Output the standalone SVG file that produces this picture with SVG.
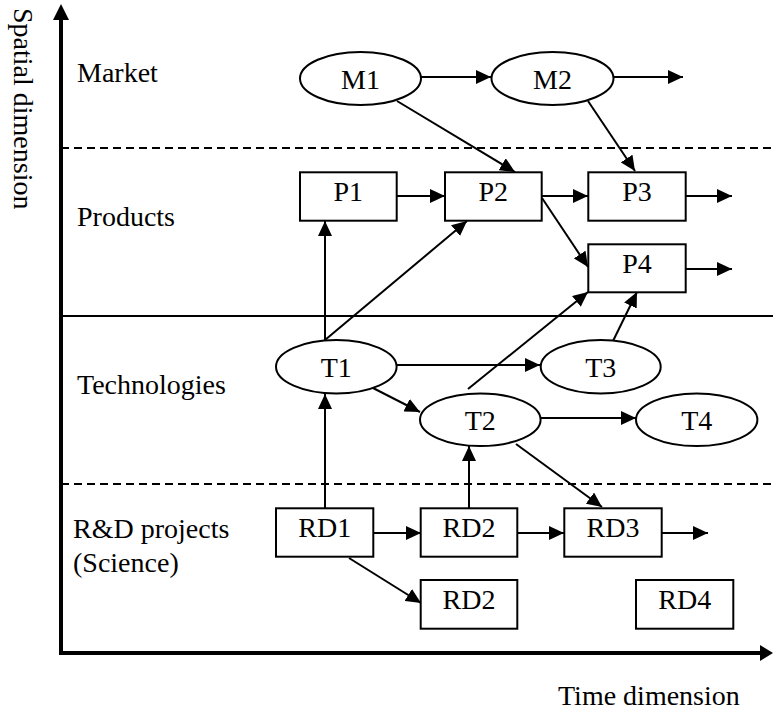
<svg xmlns="http://www.w3.org/2000/svg" width="773" height="710" viewBox="0 0 773 710" font-family="'Liberation Serif', 'Times New Roman', Times, 'Noto Serif', 'DejaVu Serif', serif">
  <style>
    text { font-size: 28px; fill: #000; }
    .lbl { text-anchor: start; }
    .nt { text-anchor: middle; }
    .node { fill: #fff; stroke: #000; stroke-width: 2; }
    .edge { fill: none; stroke: #000; stroke-width: 2; marker-end: url(#arr); }
    .axis { fill: none; stroke: #000; stroke-width: 4; }
    .dash { fill: none; stroke: #000; stroke-width: 2; stroke-dasharray: 8 5; }
    .sep { fill: none; stroke: #000; stroke-width: 2; }
  </style>
  <defs>
    <marker id="arr" viewBox="0 0 15 14" refX="15" refY="7" markerWidth="15" markerHeight="14" markerUnits="userSpaceOnUse" orient="auto">
      <path d="M0,0 L15,7 L0,14 z" fill="#000"/>
    </marker>
  </defs>

  <rect width="773" height="710" fill="#fff"/>

  <!-- axes -->
  <g id="axes">
    <line class="axis" x1="61" y1="654" x2="61" y2="18"/>
    <polygon points="61,4 53,20 69,20" fill="#000"/>
    <line class="axis" x1="59" y1="653" x2="762" y2="653"/>
    <polygon points="773,653 760,645 760,661" fill="#000"/>
    <text transform="translate(14,8) rotate(90)" class="lbl">Spatial dimension</text>
    <text x="558" y="705" class="lbl">Time dimension</text>
  </g>

  <!-- layer boundaries -->
  <g id="layers">
    <line class="dash" x1="61" y1="148" x2="773" y2="148"/>
    <line class="sep" x1="61" y1="316" x2="773" y2="316"/>
    <line class="dash" x1="61" y1="484" x2="773" y2="484"/>
    <text x="77" y="82" class="lbl">Market</text>
    <text x="77" y="226" class="lbl">Products</text>
    <text x="77" y="394" class="lbl">Technologies</text>
    <text x="73" y="538" class="lbl">R&amp;D projects</text>
    <text x="73" y="572" class="lbl">(Science)</text>
  </g>

  <!-- connectors -->
  <g id="connectors">
    <line class="edge" x1="421" y1="77" x2="491" y2="77"/>
    <line class="edge" x1="613" y1="77" x2="683" y2="77"/>
    <line class="edge" x1="397" y1="101" x2="515" y2="172"/>
    <line class="edge" x1="588" y1="101" x2="635" y2="171"/>
    <line class="edge" x1="397" y1="196" x2="445" y2="196"/>
    <line class="edge" x1="542" y1="196" x2="588" y2="196"/>
    <line class="edge" x1="686" y1="196" x2="732" y2="196"/>
    <line class="edge" x1="686" y1="269" x2="732" y2="269"/>
    <line class="edge" x1="542" y1="198" x2="588" y2="267"/>
    <line class="edge" x1="325" y1="340" x2="325" y2="221"/>
    <line class="edge" x1="325" y1="340" x2="467" y2="221"/>
    <line class="edge" x1="397" y1="365" x2="540" y2="365"/>
    <line class="edge" x1="373" y1="388" x2="420" y2="412"/>
    <line class="edge" x1="468" y1="389" x2="588" y2="292"/>
    <line class="edge" x1="613" y1="341" x2="637" y2="292"/>
    <line class="edge" x1="541" y1="418" x2="636" y2="418"/>
    <line class="edge" x1="516" y1="444" x2="602" y2="507"/>
    <line class="edge" x1="325" y1="508" x2="325" y2="394"/>
    <line class="edge" x1="469" y1="508" x2="469" y2="446"/>
    <line class="edge" x1="373" y1="533" x2="421" y2="533"/>
    <line class="edge" x1="517" y1="533" x2="564" y2="533"/>
    <line class="edge" x1="662" y1="533" x2="708" y2="533"/>
    <line class="edge" x1="349" y1="558" x2="421" y2="603"/>
  </g>

  <!-- market -->
  <g id="M1">
    <ellipse class="node" cx="360.5" cy="78.5" rx="60.5" ry="26.5"/>
    <text x="360.5" y="89" class="nt">M1</text>
  </g>
  <g id="M2">
    <ellipse class="node" cx="552.5" cy="78.5" rx="61" ry="26.5"/>
    <text x="552.5" y="89" class="nt">M2</text>
  </g>

  <!-- products -->
  <g id="P1">
    <rect class="node" x="300" y="172.3" width="96.7" height="48.4"/>
    <text x="348.3" y="201" class="nt">P1</text>
  </g>
  <g id="P2">
    <rect class="node" x="445" y="172.3" width="96.7" height="48.4"/>
    <text x="493.3" y="201" class="nt">P2</text>
  </g>
  <g id="P3">
    <rect class="node" x="588.3" y="172.3" width="97.4" height="48.4"/>
    <text x="637" y="201" class="nt">P3</text>
  </g>
  <g id="P4">
    <rect class="node" x="588.3" y="244.3" width="97.4" height="48"/>
    <text x="637" y="273" class="nt">P4</text>
  </g>

  <!-- technologies -->
  <g id="T1">
    <ellipse class="node" cx="336.3" cy="366.7" rx="60.3" ry="26.7"/>
    <text x="336.3" y="377" class="nt">T1</text>
  </g>
  <g id="T2">
    <ellipse class="node" cx="480.3" cy="419.7" rx="60.3" ry="26.3"/>
    <text x="480.3" y="430" class="nt">T2</text>
  </g>
  <g id="T3">
    <ellipse class="node" cx="600.7" cy="366.7" rx="60" ry="26.7"/>
    <text x="600.7" y="377" class="nt">T3</text>
  </g>
  <g id="T4">
    <ellipse class="node" cx="696.7" cy="419.7" rx="60.7" ry="26.3"/>
    <text x="696.7" y="430" class="nt">T4</text>
  </g>

  <!-- R&D projects -->
  <g id="RD1">
    <rect class="node" x="276" y="508.3" width="97.3" height="48.4"/>
    <text x="324.7" y="537" class="nt">RD1</text>
  </g>
  <g id="RD2a">
    <rect class="node" x="420.7" y="508.3" width="96.6" height="48.4"/>
    <text x="469" y="537" class="nt">RD2</text>
  </g>
  <g id="RD2b">
    <rect class="node" x="420.7" y="580" width="96.6" height="48.7"/>
    <text x="469" y="609" class="nt">RD2</text>
  </g>
  <g id="RD3">
    <rect class="node" x="564.3" y="508.3" width="97.4" height="48.4"/>
    <text x="613" y="537" class="nt">RD3</text>
  </g>
  <g id="RD4">
    <rect class="node" x="636" y="580" width="97.3" height="48.7"/>
    <text x="684.7" y="609" class="nt">RD4</text>
  </g>
</svg>
